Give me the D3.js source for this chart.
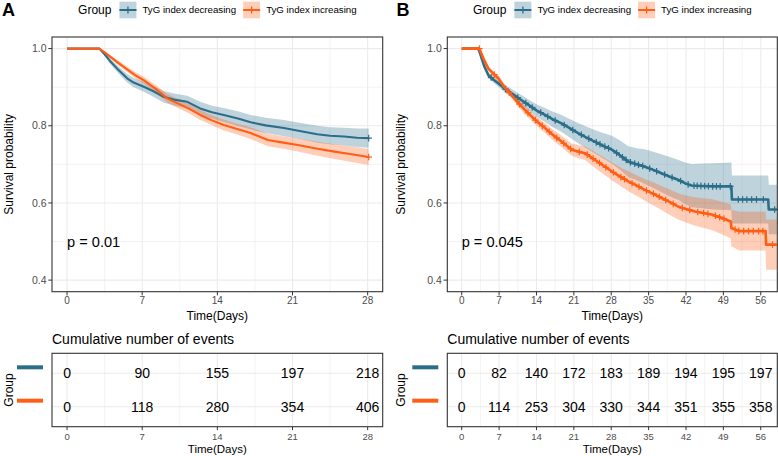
<!DOCTYPE html>
<html>
<head>
<meta charset="utf-8">
<script src="https://cdn.jsdelivr.net/npm/d3@7"></script>
<style>
  body { margin: 0; background: #fff; }
  svg { display: block; }
  text { font-family: "Liberation Sans", Arial, sans-serif; }
</style>
</head>
<body>
<script>
// ---- data ----
const groupNames = ["TyG index decreasing", "TyG index increasing"];
const COLORS = { dec: "#2A6E8A", inc: "#FF5E14" };

// Kaplan-Meier curves: [day, survival, half width of 95% CI]
const decA = [[0,1,0],[3.0,1,0],[3.5,0.985,0.004],[4.0,0.968,0.007],[4.67,0.948,0.009],[5.6,0.923,0.011],[6.2,0.912,0.012],[7.15,0.901,0.013],[8.0,0.89,0.014],[9.0,0.875,0.015],[10.1,0.867,0.016],[11.2,0.862,0.016],[12.4,0.845,0.017],[13.5,0.835,0.017],[14.6,0.828,0.018],[16.0,0.818,0.019],[17.1,0.809,0.019],[18.5,0.801,0.02],[20.2,0.794,0.021],[21.8,0.786,0.021],[23.3,0.778,0.022],[24.5,0.774,0.022],[25.8,0.772,0.023],[27.0,0.769,0.024],[28.1,0.768,0.025]];
const incA = [[0,1,0],[3.0,1,0],[3.5,0.99,0.003],[4.67,0.965,0.006],[5.5,0.948,0.007],[6.3,0.932,0.008],[7.15,0.918,0.009],[8.2,0.897,0.01],[9.33,0.871,0.011],[10.3,0.858,0.012],[11.3,0.845,0.012],[12.4,0.828,0.013],[13.5,0.814,0.013],[14.6,0.802,0.014],[16.0,0.79,0.014],[17.1,0.781,0.015],[18.7,0.763,0.016],[20.0,0.757,0.016],[21.5,0.75,0.017],[23.2,0.741,0.018],[24.9,0.733,0.019],[26.5,0.726,0.02],[28.1,0.719,0.021]];
const decB = [[0,1,0],[3.1,1,0],[3.5,0.985,0.003],[4.2,0.955,0.005],[5.0,0.931,0.007],[5.9,0.92,0.008],[6.85,0.91,0.009],[8.0,0.897,0.01],[9.36,0.884,0.011],[11.0,0.868,0.013],[12.5,0.854,0.014],[14.0,0.84,0.016],[15.6,0.828,0.018],[17.0,0.817,0.02],[18.7,0.806,0.022],[20.3,0.793,0.024],[21.8,0.781,0.026],[23.3,0.77,0.028],[24.9,0.759,0.03],[26.5,0.748,0.033],[28.1,0.738,0.036],[29.5,0.725,0.038],[31.2,0.707,0.04],[32.8,0.7,0.042],[34.3,0.694,0.045],[36.0,0.685,0.047],[37.4,0.677,0.049],[39.0,0.668,0.051],[40.5,0.66,0.052],[42.0,0.65,0.054],[43.0,0.645,0.056],[45.0,0.644,0.058],[47.0,0.643,0.06],[50.5,0.643,0.062],[50.6,0.609,0.062],[54.0,0.609,0.062],[57.4,0.609,0.062],[57.5,0.583,0.064],[59.0,0.583,0.064]];
const incB = [[0,1,0],[3.3,1,0],[3.6,0.99,0.003],[4.2,0.97,0.004],[5.0,0.948,0.006],[5.9,0.935,0.007],[6.85,0.923,0.008],[8.0,0.9,0.008],[9.36,0.879,0.009],[11.0,0.853,0.01],[12.5,0.832,0.011],[14.0,0.812,0.012],[15.6,0.794,0.013],[17.0,0.777,0.014],[18.7,0.759,0.015],[20.6,0.738,0.016],[21.8,0.733,0.017],[23.1,0.729,0.018],[24.9,0.712,0.02],[26.5,0.697,0.022],[28.1,0.682,0.023],[29.6,0.669,0.024],[31.2,0.656,0.026],[32.8,0.645,0.027],[34.3,0.634,0.028],[36.0,0.623,0.03],[37.4,0.613,0.031],[39.0,0.602,0.033],[40.5,0.591,0.034],[42.0,0.584,0.035],[43.7,0.578,0.037],[45.2,0.574,0.038],[46.8,0.57,0.04],[48.7,0.561,0.042],[50.4,0.552,0.044],[50.5,0.535,0.047],[52.0,0.527,0.05],[56.9,0.527,0.05],[57.0,0.492,0.065],[59.0,0.492,0.065]];

// censoring times ("+" marks)
const censDecA = [28.1];
const censIncA = [28.1];
const censDecB = [5.5,8.2,10.5,12,13.2,14.8,16.1,17.5,19.2,20.8,22.4,23.8,25.2,25.9,26.8,27.5,29,30.1,30.8,31.6,32.4,33.1,33.9,35.2,36.5,38,39.4,41,42.4,43.5,44.1,44.8,45.5,46.2,47,47.7,48.4,50.3,51.8,52.6,53.4,54.3,55.2,56.5,58.6];
const censIncB = [3.3,6.1,8.9,10.8,12.4,13.8,15.1,16.4,17.8,19.1,20.4,22,23.5,24.6,25.8,27,28.4,29.8,30.5,31.9,33.2,34.6,35.9,37,38.2,39.6,41.3,42.7,44.2,45.3,46.1,47.5,48.3,49.1,51.2,51.9,52.8,53.7,54.6,55.6,56.4,58.2];

const ticksA = [0, 7, 14, 21, 28];
const ticksB = [0, 7, 14, 21, 28, 35, 42, 49, 56];
const eventsDecA = [0, 90, 155, 197, 218];
const eventsIncA = [0, 118, 280, 354, 406];
const eventsDecB = [0, 82, 140, 172, 183, 189, 194, 195, 197];
const eventsIncB = [0, 114, 253, 304, 330, 344, 351, 355, 358];
const yTicks = [0.4, 0.6, 0.8, 1.0];
const yMinor = [0.5, 0.7, 0.9];

const W = 778, H = 456;
const svg = d3.select("body").append("svg").attr("width", W).attr("height", H);

const panels = [
  { tag: "A", left: 52, right: 382.7, xDomain: [-1.4, 29.4], ticks: ticksA,
    dec: decA, inc: incA, censDec: censDecA, censInc: censIncA,
    evDec: eventsDecA, evInc: eventsIncA, pval: "p = 0.01",
    tagX: 2, titleX: 8.5, lw: 2.1 },
  { tag: "B", left: 447.3, right: 777.3, xDomain: [-2.7, 59.1], ticks: ticksB,
    dec: decB, inc: incB, censDec: censDecB, censInc: censIncB,
    evDec: eventsDecB, evInc: eventsIncB, pval: "p = 0.045",
    tagX: 396.5, titleX: 400.5, lw: 2.6 }
];

const plotTop = 37, plotBottom = 291.7;
const tabTop = 353.3, tabBottom = 426.7;

function survAt(curve, t) {
  for (let i = 1; i < curve.length; i++) {
    if (t <= curve[i][0]) {
      const a = curve[i - 1], b = curve[i];
      const f = (t - a[0]) / (b[0] - a[0] || 1);
      return a[1] + f * (b[1] - a[1]);
    }
  }
  return curve[curve.length - 1][1];
}

function drawPanel(p) {
  const x = d3.scaleLinear().domain(p.xDomain).range([p.left, p.right]);
  const y = d3.scaleLinear().domain([0.37, 1.03]).range([plotBottom, plotTop]);
  const g = svg.append("g");
  const step = p.ticks[1] - p.ticks[0];
  const xMinor = p.ticks.map(t => t + step / 2).filter(t => t < p.xDomain[1]);

  // grid
  g.selectAll(".gxm").data(xMinor).join("line")
    .attr("x1", d => x(d)).attr("x2", d => x(d)).attr("y1", plotTop).attr("y2", plotBottom)
    .attr("stroke", "#EBEBEB").attr("stroke-width", 0.6);
  g.selectAll(".gym").data(yMinor).join("line")
    .attr("x1", p.left).attr("x2", p.right).attr("y1", d => y(d)).attr("y2", d => y(d))
    .attr("stroke", "#EBEBEB").attr("stroke-width", 0.6);
  g.selectAll(".gx").data(p.ticks).join("line")
    .attr("x1", d => x(d)).attr("x2", d => x(d)).attr("y1", plotTop).attr("y2", plotBottom)
    .attr("stroke", "#EBEBEB").attr("stroke-width", 1.1);
  g.selectAll(".gy").data(yTicks).join("line")
    .attr("x1", p.left).attr("x2", p.right).attr("y1", d => y(d)).attr("y2", d => y(d))
    .attr("stroke", "#EBEBEB").attr("stroke-width", 1.1);

  const area = d3.area().x(d => x(d[0])).y0(d => y(d[1] - d[2])).y1(d => y(d[1] + d[2]));
  const line = d3.line().x(d => x(d[0])).y(d => y(d[1]));

  const series = [
    { data: p.dec, cens: p.censDec, color: COLORS.dec },
    { data: p.inc, cens: p.censInc, color: COLORS.inc }
  ];
  series.forEach(s => {
    g.append("path").attr("d", area(s.data)).attr("fill", s.color).attr("fill-opacity", 0.3);
  });
  series.forEach(s => {
    g.append("path").attr("d", line(s.data)).attr("fill", "none")
      .attr("stroke", s.color).attr("stroke-width", p.lw).attr("stroke-linejoin", "round");
    const marks = g.append("g").attr("stroke", s.color).attr("stroke-width", 1.2);
    s.cens.forEach(t => {
      const cx = x(t), cy = y(survAt(s.data, t));
      marks.append("line").attr("x1", cx).attr("x2", cx).attr("y1", cy - 3.3).attr("y2", cy + 3.3);
      marks.append("line").attr("x1", cx - 3.3).attr("x2", cx + 3.3).attr("y1", cy).attr("y2", cy);
    });
  });

  // border
  g.append("rect").attr("x", p.left).attr("y", plotTop)
    .attr("width", p.right - p.left).attr("height", plotBottom - plotTop)
    .attr("fill", "none").attr("stroke", "#333").attr("stroke-width", 1.1);

  // axes
  const yAxis = g.append("g");
  yTicks.forEach(v => {
    yAxis.append("line").attr("x1", p.left - 3.7).attr("x2", p.left)
      .attr("y1", y(v)).attr("y2", y(v)).attr("stroke", "#333").attr("stroke-width", 1);
    yAxis.append("text").attr("x", p.left - 5.5).attr("y", y(v)).attr("dy", "0.35em")
      .attr("text-anchor", "end").attr("font-size", 10.5).attr("fill", "#4D4D4D").text(v.toFixed(1));
  });
  const xAxis = g.append("g");
  p.ticks.forEach(v => {
    xAxis.append("line").attr("x1", x(v)).attr("x2", x(v))
      .attr("y1", plotBottom).attr("y2", plotBottom + 3.7).attr("stroke", "#333").attr("stroke-width", 1);
    xAxis.append("text").attr("x", x(v)).attr("y", plotBottom + 12.3)
      .attr("text-anchor", "middle").attr("font-size", 10).attr("fill", "#4D4D4D").text(v);
  });
  const midX = (p.left + p.right) / 2;
  g.append("text").attr("x", midX).attr("y", 319.5).attr("text-anchor", "middle")
    .attr("font-size", 12).attr("fill", "#000").text("Time(Days)");
  g.append("text").attr("transform", `translate(${p.titleX + 4},${(plotTop + plotBottom) / 2}) rotate(-90)`)
    .attr("text-anchor", "middle").attr("font-size", 12).attr("fill", "#000").text("Survival probability");
  g.append("text").attr("x", x(0)).attr("y", 247.3).attr("font-size", 14.6)
    .attr("fill", "#000").text(p.pval);

  // panel tag
  svg.append("text").attr("x", p.tagX).attr("y", 16.3).attr("font-size", 18).attr("font-weight", "bold")
    .text(p.tag);

  // legend, centred over the panel
  const leg = svg.append("g");
  const gl = leg.append("text").attr("x", 0).attr("y", 10).attr("dy", "0.35em").attr("font-size", 12).text("Group");
  let cx = gl.node().getComputedTextLength() + 8;
  [["dec", groupNames[0]], ["inc", groupNames[1]]].forEach(([k, name]) => {
    const c = COLORS[k];
    leg.append("rect").attr("x", cx).attr("y", 1.7).attr("width", 17).attr("height", 16.6)
      .attr("fill", c).attr("fill-opacity", 0.3);
    leg.append("line").attr("x1", cx).attr("x2", cx + 17).attr("y1", 10).attr("y2", 10)
      .attr("stroke", c).attr("stroke-width", 2);
    leg.append("line").attr("x1", cx + 8.5).attr("x2", cx + 8.5).attr("y1", 6.5).attr("y2", 13.5)
      .attr("stroke", c).attr("stroke-width", 1.3);
    const t = leg.append("text").attr("x", cx + 23).attr("y", 10).attr("dy", "0.35em")
      .attr("font-size", 9.7).text(name);
    cx += 23 + t.node().getComputedTextLength() + 7;
  });
  const legW = cx - 7;
  leg.attr("transform", `translate(${midX - legW / 2},0)`);

  // risk table: cumulative number of events
  const rows = d3.scalePoint().domain(["dec", "inc"]).range([tabTop, tabBottom]).padding(0.6);
  const t = svg.append("g");
  t.append("text").attr("x", p.left).attr("y", 344).attr("font-size", 14).text("Cumulative number of events");
  xMinor.forEach(v => {
    t.append("line").attr("x1", x(v)).attr("x2", x(v)).attr("y1", tabTop).attr("y2", tabBottom)
      .attr("stroke", "#EBEBEB").attr("stroke-width", 0.6);
  });
  p.ticks.forEach(v => {
    t.append("line").attr("x1", x(v)).attr("x2", x(v)).attr("y1", tabTop).attr("y2", tabBottom)
      .attr("stroke", "#EBEBEB").attr("stroke-width", 1.1);
  });
  ["dec", "inc"].forEach(k => {
    t.append("line").attr("x1", p.left).attr("x2", p.right).attr("y1", rows(k)).attr("y2", rows(k))
      .attr("stroke", "#EBEBEB").attr("stroke-width", 1.1);
  });
  const tableRows = [["dec", p.evDec], ["inc", p.evInc]];
  tableRows.forEach(([k, vals]) => {
    t.selectAll(null).data(vals).join("text")
      .attr("x", (d, i) => x(p.ticks[i])).attr("y", rows(k)).attr("dy", "0.36em")
      .attr("text-anchor", "middle").attr("font-size", 14).attr("fill", "#000").text(d => d);
    t.append("line").attr("x1", p.left - 35).attr("x2", p.left - 9)
      .attr("y1", rows(k) - 6).attr("y2", rows(k) - 6)
      .attr("stroke", COLORS[k]).attr("stroke-width", 4);
  });
  t.append("rect").attr("x", p.left).attr("y", tabTop)
    .attr("width", p.right - p.left).attr("height", tabBottom - tabTop)
    .attr("fill", "none").attr("stroke", "#333").attr("stroke-width", 1.1);
  p.ticks.forEach(v => {
    t.append("line").attr("x1", x(v)).attr("x2", x(v))
      .attr("y1", tabBottom).attr("y2", tabBottom + 3.4).attr("stroke", "#333").attr("stroke-width", 1);
    t.append("text").attr("x", x(v)).attr("y", tabBottom + 13.4)
      .attr("text-anchor", "middle").attr("font-size", 9.5).attr("fill", "#4D4D4D").text(v);
  });
  t.append("text").attr("x", midX).attr("y", 453.4).attr("text-anchor", "middle")
    .attr("font-size", 11.5).text("Time(Days)");
  t.append("text").attr("transform", `translate(${p.titleX + 4},${(tabTop + tabBottom) / 2}) rotate(-90)`)
    .attr("text-anchor", "middle").attr("font-size", 12).text("Group");
}

panels.forEach(drawPanel);
</script>
</body>
</html>
